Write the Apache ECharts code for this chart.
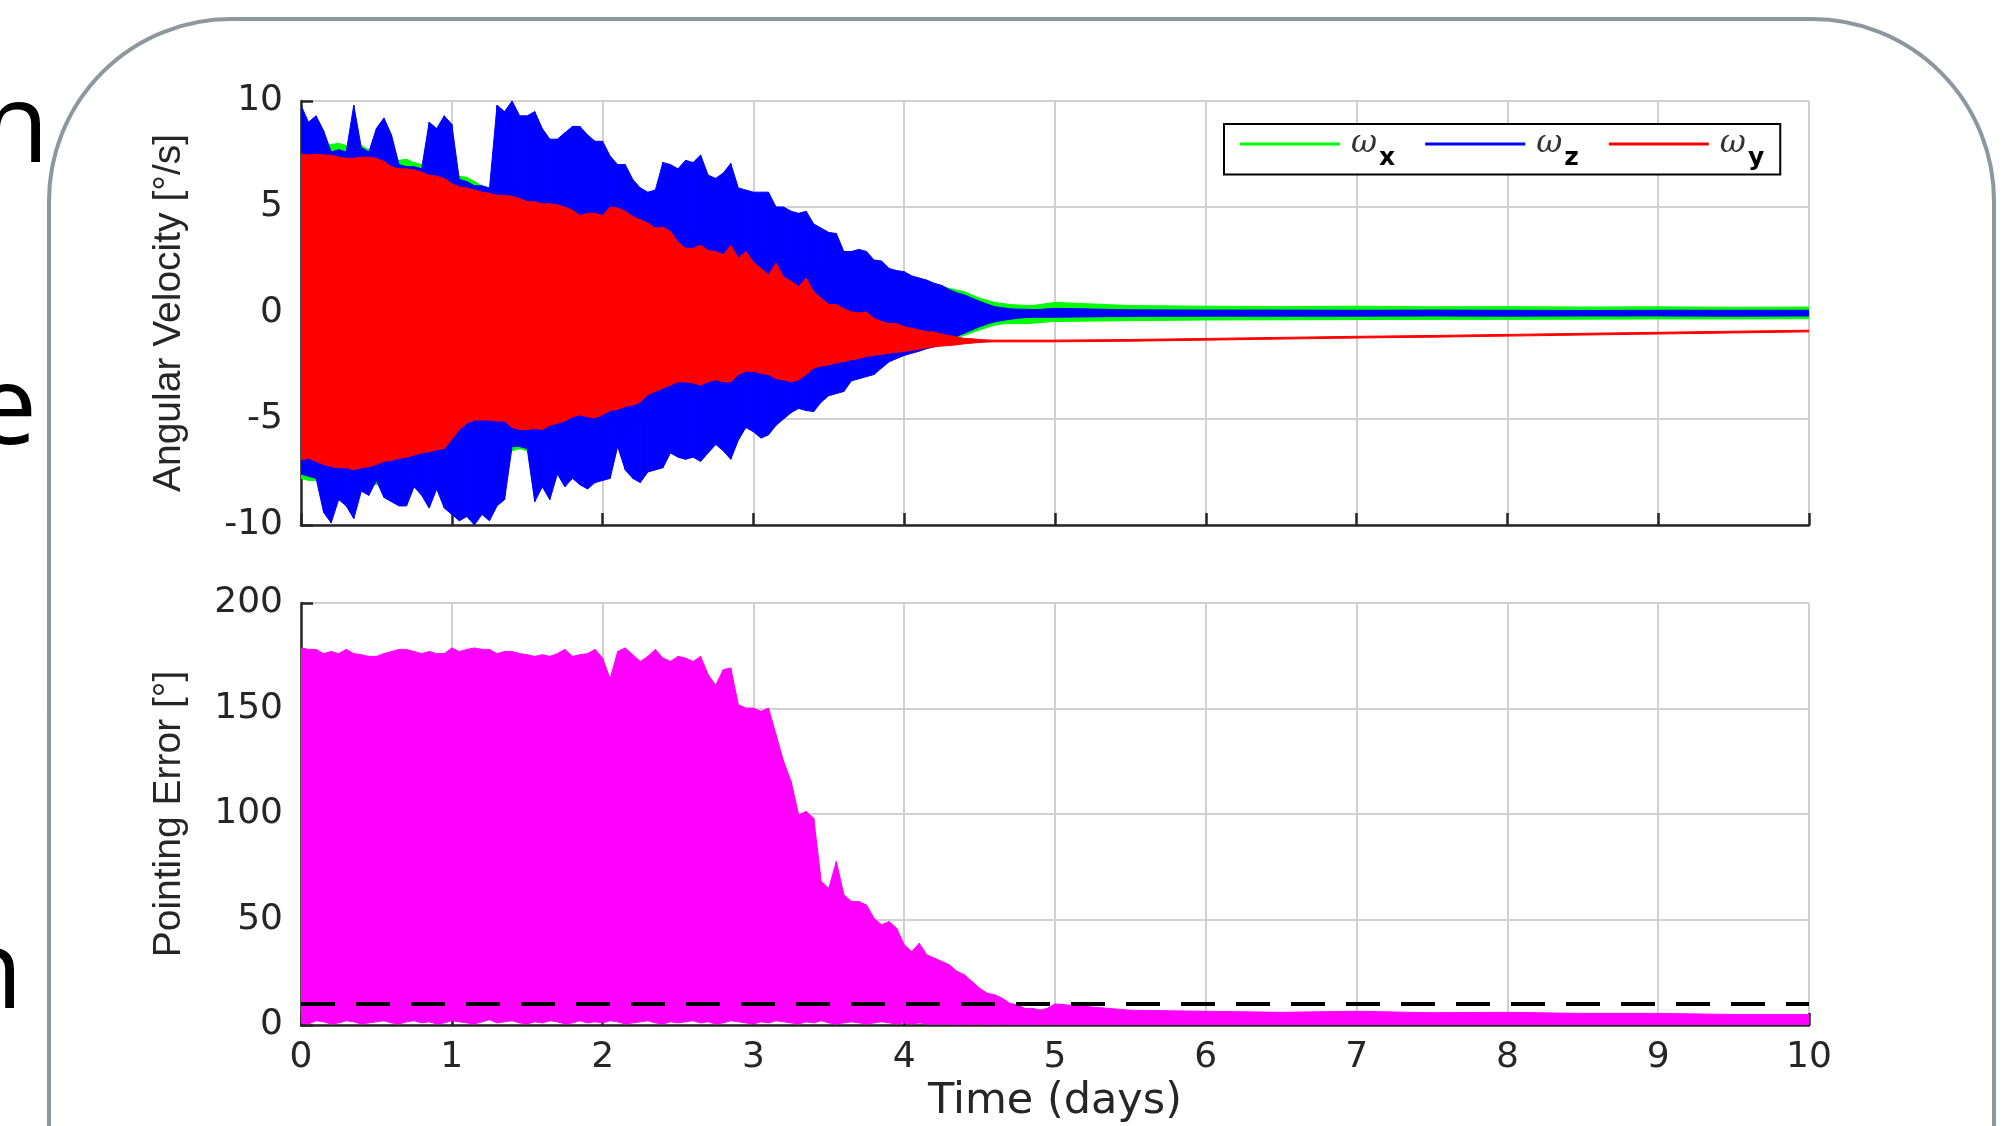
<!DOCTYPE html>
<html>
<head>
<meta charset="utf-8">
<title>Angular velocity and pointing error</title>
<script src="https://cdn.jsdelivr.net/npm/echarts@6.0.0/dist/echarts.min.js"></script>
<style>
html, body { margin: 0; padding: 0; background: #fff; }
#main { width: 2011px; height: 1126px; }
</style>
</head>
<body>
<div id="main"></div>
<script>
// sample times (days): every 0.05 day while the motion damps out, then every 0.5 day
var days = [0,0.05,0.1,0.15,0.2,0.25,0.3,0.35,0.4,0.45,0.5,0.55,0.6,0.65,0.7,0.75,0.8,0.85,0.9,0.95,
  1,1.05,1.1,1.15,1.2,1.25,1.3,1.35,1.4,1.45,1.5,1.55,1.6,1.65,1.7,1.75,1.8,1.85,1.9,1.95,
  2,2.05,2.1,2.15,2.2,2.25,2.3,2.35,2.4,2.45,2.5,2.55,2.6,2.65,2.7,2.75,2.8,2.85,2.9,2.95,
  3,3.05,3.1,3.15,3.2,3.25,3.3,3.35,3.4,3.45,3.5,3.55,3.6,3.65,3.7,3.75,3.8,3.85,3.9,3.95,
  4,4.05,4.1,4.15,4.2,4.25,4.3,4.35,4.4,4.45,4.5,4.55,4.6,4.65,4.7,4.75,4.8,4.85,4.9,4.95,
  5,5.5,6,6.5,7,7.5,8,8.5,9,9.5,10];

// envelope (max / min) of each oscillating signal
var wxHi = [7.9,7.9,7.9,7.85,7.95,8.0,7.9,7.85,7.9,7.7,7.6,7.5,7.3,7.2,7.25,7.1,7.0,6.9,6.8,6.7,
  6.5,6.45,6.4,6.2,6.0,5.8,5.9,5.9,5.85,5.8,5.7,5.6,5.55,5.5,5.45,5.4,5.3,5.2,5.1,5.1,
  5.0,5.2,5.3,5.5,5.6,5.4,5.0,4.6,4.4,4.2,4.0,3.9,3.8,3.7,3.6,3.5,3.4,3.4,3.3,3.2,
  3.1,3.0,2.9,2.8,2.7,2.6,2.5,2.4,2.3,2.2,2.1,2.0,1.95,1.9,1.85,1.8,1.75,1.7,1.65,1.6,
  1.55,1.5,1.45,1.4,1.3,1.25,1.16,1.08,1.0,0.85,0.7,0.6,0.5,0.45,0.4,0.38,0.36,0.35,0.4,0.45,
  0.5,0.35,0.32,0.3,0.32,0.29,0.3,0.28,0.29,0.27,0.28];
var wxLo = [-7.8,-7.9,-7.9,-7.8,-7.9,-8.0,-7.9,-7.9,-7.9,-8.0,-8.1,-7.9,-7.6,-7.5,-7.4,-7.3,-7.2,-7.1,-7.0,-6.8,
  -6.6,-6.5,-6.4,-6.3,-6.3,-6.4,-6.4,-6.5,-6.5,-6.4,-6.5,-6.3,-6.2,-6.1,-6.0,-5.9,-5.8,-5.7,-5.6,-5.5,
  -5.5,-5.4,-5.4,-5.4,-5.2,-5.0,-4.8,-4.6,-4.4,-4.2,-4.0,-3.9,-3.8,-3.7,-3.6,-3.5,-3.4,-3.4,-3.3,-3.2,
  -3.1,-3.0,-2.9,-2.8,-2.7,-2.6,-2.5,-2.4,-2.3,-2.2,-2.1,-2.0,-1.95,-1.9,-1.85,-1.8,-1.75,-1.7,-1.65,-1.6,
  -1.55,-1.5,-1.45,-1.4,-1.35,-1.3,-1.25,-1.15,-1.05,-0.92,-0.8,-0.68,-0.57,-0.52,-0.5,-0.5,-0.5,-0.48,-0.45,-0.42,
  -0.4,-0.36,-0.33,-0.32,-0.31,-0.3,-0.3,-0.29,-0.28,-0.28,-0.27];
var wzHi = [9.8,9.0,9.3,8.6,7.6,7.7,7.6,9.8,7.8,7.6,8.7,9.2,8.4,7.0,6.9,6.9,6.8,9.0,8.7,9.3,
  8.9,6.3,6.2,6.0,6.0,5.9,9.8,9.5,10,9.3,9.3,9.5,8.7,8.2,8.2,8.5,8.8,8.8,8.4,8.1,
  8.1,7.4,7.0,7.0,6.3,5.9,5.7,5.8,7.1,7.0,6.8,7.2,7.1,7.45,6.5,6.35,6.6,7.05,5.9,5.8,
  5.7,5.7,5.7,5.0,5.0,4.8,4.7,4.8,4.2,4.0,3.8,3.75,2.9,2.9,3.0,2.9,2.5,2.45,2.1,2.0,
  1.95,1.75,1.65,1.55,1.4,1.3,1.1,0.95,0.85,0.7,0.55,0.42,0.3,0.25,0.2,0.18,0.18,0.16,0.17,0.2,
  0.22,0.15,0.14,0.14,0.13,0.14,0.13,0.12,0.13,0.13,0.13];
var wzLo = [-7.6,-7.7,-7.8,-9.4,-9.9,-8.8,-9.1,-9.7,-8.4,-8.6,-7.9,-8.7,-8.9,-9.1,-9.1,-8.2,-8.6,-9.2,-8.3,-9.2,
  -9.5,-9.8,-9.6,-10,-9.5,-9.8,-9.1,-8.8,-6.3,-6.3,-6.4,-8.9,-8.2,-8.8,-7.6,-8.2,-7.8,-8.1,-8.3,-8.0,
  -7.9,-7.8,-6.3,-7.4,-7.8,-8.0,-7.5,-7.4,-7.3,-6.6,-6.8,-6.9,-6.8,-7.0,-6.6,-6.2,-6.5,-6.9,-6.0,-5.4,
  -5.6,-5.9,-5.75,-5.3,-5.0,-4.7,-4.5,-4.6,-4.65,-4.2,-3.9,-3.8,-3.7,-3.2,-3.1,-3.0,-2.9,-2.6,-2.3,-2.15,
  -2.0,-1.9,-1.8,-1.68,-1.6,-1.45,-1.35,-1.1,-0.95,-0.8,-0.65,-0.52,-0.42,-0.35,-0.3,-0.25,-0.22,-0.2,-0.2,-0.2,
  -0.2,-0.16,-0.15,-0.15,-0.15,-0.14,-0.15,-0.14,-0.14,-0.15,-0.14];
var wyHi = [7.5,7.45,7.5,7.45,7.45,7.35,7.3,7.3,7.35,7.35,7.3,7.15,6.9,6.8,6.8,6.75,6.65,6.5,6.45,6.35,
  6.1,5.95,5.9,5.8,5.7,5.65,5.55,5.55,5.5,5.4,5.25,5.25,5.15,5.15,5.1,5.0,4.85,4.6,4.7,4.7,
  4.6,5.0,4.95,4.8,4.55,4.4,4.25,4.0,4.05,3.85,3.35,3.05,3.05,3.2,2.95,2.9,2.75,3.2,2.6,2.9,
  2.4,2.1,1.8,2.35,1.7,1.5,1.25,1.65,1.0,0.7,0.4,0.4,0.2,0.05,0,0.05,-0.25,-0.4,-0.5,-0.5,
  -0.65,-0.72,-0.8,-0.88,-0.9,-1.0,-1.07,-1.13,-1.2,-1.22,-1.25,-1.27,-1.28,-1.28,-1.28,-1.28,-1.28,-1.28,-1.28,-1.28,
  -1.28,-1.25,-1.2,-1.15,-1.1,-1.06,-1.01,-0.96,-0.91,-0.86,-0.81];
var wyLo = [-6.93,-6.85,-7.0,-7.15,-7.25,-7.3,-7.3,-7.4,-7.3,-7.25,-7.15,-7.0,-6.95,-6.85,-6.8,-6.7,-6.6,-6.55,-6.45,-6.4,
  -5.95,-5.5,-5.2,-5.05,-5.05,-5.05,-5.1,-5.1,-5.4,-5.5,-5.5,-5.45,-5.5,-5.3,-5.2,-5.1,-4.9,-4.8,-4.9,-4.95,
  -4.8,-4.6,-4.55,-4.4,-4.35,-4.2,-3.85,-3.7,-3.55,-3.4,-3.25,-3.25,-3.3,-3.4,-3.25,-3.15,-3.25,-3.25,-2.9,-2.75,
  -2.75,-2.85,-2.9,-3.1,-3.15,-3.25,-3.15,-2.9,-2.6,-2.5,-2.45,-2.35,-2.3,-2.2,-2.15,-2.05,-2.0,-1.95,-1.9,-1.85,
  -1.82,-1.76,-1.7,-1.64,-1.59,-1.56,-1.53,-1.5,-1.45,-1.42,-1.39,-1.37,-1.36,-1.36,-1.36,-1.36,-1.36,-1.36,-1.36,-1.36,
  -1.36,-1.33,-1.28,-1.23,-1.18,-1.14,-1.09,-1.04,-0.99,-0.94,-0.89];
var errHi = [178.7,178,178,176,177,176,178,176,175.5,174.7,174.7,176,177,178,178,177,176,177,176,176,
  178.7,177,178,178.7,178,178,176,177,177,176,175.5,174.7,175.5,174.7,176,178,174.7,175.5,176,178,
  173.9,164,177,178.7,175.5,172.3,174.7,178,173.9,172.3,174.7,173.9,172.3,174.7,166,161,168.4,169.2,151.8,150.2,
  150.2,148.6,150.2,137.6,125,115.4,99.6,101.2,98,68,64.8,77.5,61.7,58.5,58.5,56.9,50.6,47.5,49,45.9,
  38,34.8,38.7,33.2,31.7,30.1,28.5,25.4,23.8,20.6,17.4,15.1,14.3,12.7,10.3,9.5,7.9,7.9,7.1,7.9,
  10,7,6.5,6,6.5,5.8,6,5.5,5.5,5,5];
var errLo = [1,0.5,2,1.5,0.5,1,2,1.5,0.5,1,1.5,2,1,0.5,1.5,2,1,1.5,0.5,1,
  2,1.5,1,0.5,1.5,2.5,1,1.5,2,1,0.5,1.5,1,2,1.5,0.5,1,2,1,1.5,
  1,2,1.5,0.5,1,1.5,2,1,0.5,1.5,1,1.5,2,1,1.5,0.5,1,2,1.5,1,
  0.5,1.5,1,2,1.5,1,0.5,1.5,1,2,1,0.5,1,1.5,1,0.5,1,1.5,1,0.5,
  1,0.5,1,0.5,0.4,0.5,0.4,0.3,0.4,0.3,0.4,0.3,0.3,0.4,0.3,0.3,0.3,0.3,0.3,0.3,
  0.3,0.3,0.3,0.3,0.3,0.3,0.3,0.3,0.3,0.3,0.3];
var threshold = 10;

var yTicksTop = [-10, 10, 5];    // min, max, step
var yTicksBottom = [0, 200, 50];

function band(lo, hi) {
    return days.map(function (t, i) { return [t, lo[i], hi[i]]; });
}

// fills the strip between consecutive envelope samples
function renderBand(params, api) {
    var i = params.dataIndexInside;
    if (i >= params.dataInsideLength - 1) return;
    var c = api.visual('color');
    var a = api.coord([api.value(0, i), api.value(2, i)]);
    var b = api.coord([api.value(0, i + 1), api.value(2, i + 1)]);
    var d = api.coord([api.value(0, i + 1), api.value(1, i + 1)]);
    var e = api.coord([api.value(0, i), api.value(1, i)]);
    return {
        type: 'polygon',
        shape: { points: [a, b, d, e] },
        style: { fill: c, stroke: c, lineWidth: 1 }
    };
}

var axisColor = '#262626';
var tickFont = { color: axisColor, fontSize: 36, fontFamily: 'DejaVu Sans' };

function xAxisCfg(grid, labels) {
    return {
        gridIndex: grid, type: 'value', min: 0, max: 10, interval: 1,
        axisLine: { show: true, onZero: false, lineStyle: { color: axisColor, width: 2.5 } },
        axisTick: { show: true, inside: true, length: 12, lineStyle: { color: axisColor, width: 2.5 } },
        axisLabel: Object.assign({ show: labels, margin: 15 }, tickFont),
        splitLine: { show: true, lineStyle: { color: '#d0d0d0', width: 2 } }
    };
}
function yAxisCfg(grid, ticks, name) {
    return {
        gridIndex: grid, type: 'value', min: ticks[0], max: ticks[1], interval: ticks[2],
        name: name, nameLocation: 'middle', nameGap: 112,
        nameTextStyle: { color: axisColor, fontSize: 39, fontFamily: 'Liberation Sans' },
        axisLine: { show: true, onZero: false, lineStyle: { color: axisColor, width: 2.5 } },
        axisTick: { show: true, inside: true, length: 12, lineStyle: { color: axisColor, width: 2.5 } },
        axisLabel: Object.assign({ show: true, margin: 18 }, tickFont),
        splitLine: { show: true, lineStyle: { color: '#d0d0d0', width: 2 } }
    };
}

var xBottom = xAxisCfg(1, true);
xBottom.name = 'Time (days)';
xBottom.nameLocation = 'middle';
xBottom.nameGap = 55;
xBottom.nameTextStyle = { color: axisColor, fontSize: 43, fontFamily: 'DejaVu Sans' };

var labelMap = { 'ω_x': 'x', 'ω_z': 'z', 'ω_y': 'y' };

var dom = document.getElementById('main');
var myChart = echarts.init(dom, null, { renderer: 'canvas' });
var option = {
    animation: false,
    backgroundColor: '#fff',
    graphic: [
        { type: 'rect', silent: true, z: -1,
          shape: { x: 49, y: 19, width: 1945, height: 1300, r: 182 },
          style: { fill: 'none', stroke: '#8d979e', lineWidth: 4 } },
        { type: 'text', x: 49, y: 131, silent: true,
          style: { text: 'n', fill: '#000', fontSize: 110, fontFamily: 'Open Sans', align: 'right', verticalAlign: 'middle' } },
        { type: 'text', x: 37, y: 413, silent: true,
          style: { text: 'e', fill: '#000', fontSize: 110, fontFamily: 'Open Sans', align: 'right', verticalAlign: 'middle' } },
        { type: 'text', x: 23, y: 977, silent: true,
          style: { text: 'n', fill: '#000', fontSize: 110, fontFamily: 'Open Sans', align: 'right', verticalAlign: 'middle' } }
    ],
    legend: {
        left: 1224, top: 124,
        orient: 'horizontal',
        backgroundColor: '#fff',
        borderColor: '#000', borderWidth: 2,
        padding: [4, 16, 4, 16],
        itemGap: 30, itemWidth: 100, itemHeight: 3,
        data: [{ name: 'ω_x', icon: 'rect' }, { name: 'ω_z', icon: 'rect' }, { name: 'ω_y', icon: 'rect' }],
        formatter: function (name) { return '{w|ω}{s|' + labelMap[name] + '}'; },
        textStyle: {
            padding: [0, 0, 0, 6],
            rich: {
                w: { fontFamily: 'DejaVu Serif', fontStyle: 'italic', fontSize: 32, color: '#333' },
                s: { fontFamily: 'DejaVu Sans', fontWeight: 'bold', fontSize: 25, color: '#000', padding: [28, 0, 0, 2] }
            }
        }
    },
    grid: [
        { left: 301, top: 101, width: 1508, height: 424 },
        { left: 301, top: 603, width: 1508, height: 422 }
    ],
    xAxis: [xAxisCfg(0, false), xBottom],
    yAxis: [
        yAxisCfg(0, yTicksTop, 'Angular Velocity [°/s]'),
        yAxisCfg(1, yTicksBottom, 'Pointing Error [°]')
    ],
    series: [
        { name: 'ω_x', type: 'custom', xAxisIndex: 0, yAxisIndex: 0, clip: true,
          itemStyle: { color: '#00ff00' }, encode: { x: 0, y: [1, 2] },
          renderItem: renderBand, data: band(wxLo, wxHi) },
        { name: 'ω_z', type: 'custom', xAxisIndex: 0, yAxisIndex: 0, clip: true,
          itemStyle: { color: '#0000ff' }, encode: { x: 0, y: [1, 2] },
          renderItem: renderBand, data: band(wzLo, wzHi) },
        { name: 'ω_y', type: 'custom', xAxisIndex: 0, yAxisIndex: 0, clip: true,
          itemStyle: { color: '#ff0000' }, encode: { x: 0, y: [1, 2] },
          renderItem: renderBand, data: band(wyLo, wyHi) },
        { name: 'error', type: 'custom', xAxisIndex: 1, yAxisIndex: 1, clip: true,
          itemStyle: { color: '#ff00ff' }, encode: { x: 0, y: [1, 2] },
          renderItem: renderBand, data: band(errLo, errHi) },
        { name: 'limit', type: 'line', xAxisIndex: 1, yAxisIndex: 1, z: 5,
          showSymbol: false, silent: true,
          lineStyle: { color: '#000', width: 4, type: [34, 21] },
          data: [[0, threshold], [10, threshold]] }
    ]
};
if (option && typeof option === 'object') {
    myChart.setOption(option, true);
}
</script>
</body>
</html>
